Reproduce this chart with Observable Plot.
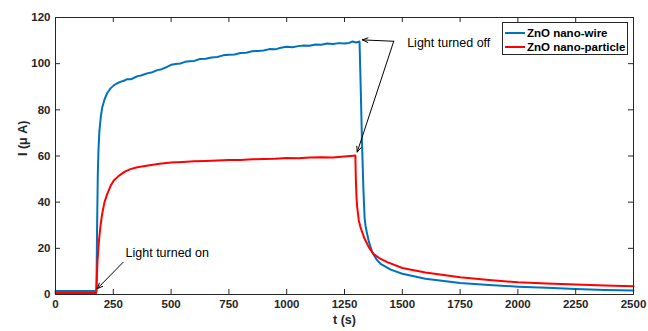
<!DOCTYPE html>
<html>
<head>
<meta charset="utf-8">
<script src="https://cdn.jsdelivr.net/npm/d3@7"></script>
<script src="https://cdn.jsdelivr.net/npm/@observablehq/plot@0.6"></script>
<style>
  body { margin: 0; background: #fff; font-family: "Liberation Sans", Arial, sans-serif; }
  #wrap { position: relative; width: 648px; height: 331px; }
  #legend { position: absolute; left: 502px; top: 22px; width: 126px; height: 33px; box-sizing: border-box;
    border: 1px solid #262626; background: #fff; font-weight: bold; font-size: 11.5px; color: #000; }
  .row { position: absolute; left: 2px; height: 14px; line-height: 14px; white-space: nowrap; }
  .row i { display: inline-block; width: 20px; height: 2px; vertical-align: middle; margin-right: 2px; position: relative; top: -1px; }
</style>
</head>
<body>
<div id="wrap"><div id="legend"></div></div>
<script>
// Series: ZnO nano-wire
const wireT = [0, 100, 177, 180, 183, 186, 190, 196, 202, 212, 224, 238, 252, 265, 280, 296, 310, 325, 340, 355, 370, 385, 400, 420, 440, 460, 480, 500, 520, 540, 560, 580, 600, 625, 650, 675, 700, 725, 750, 775, 800, 825, 850, 875, 900, 925, 950, 975, 1000, 1025, 1050, 1075, 1100, 1125, 1150, 1175, 1200, 1225, 1250, 1270, 1285, 1300, 1315, 1320, 1326, 1332, 1337, 1342, 1355, 1370, 1390, 1406, 1450, 1500, 1600, 1750, 1875, 2000, 2125, 2250, 2375, 2500];
const wireI = [1.5, 1.5, 1.5, 30, 52, 63, 71, 77, 81, 84.5, 87.3, 89.3, 90.6, 91.4, 92.1, 92.6, 93.3, 93.2, 93.9, 94.6, 94.9, 95.4, 95.9, 96.3, 97.2, 97.6, 98.5, 99.5, 99.9, 100.1, 100.8, 101.0, 101.2, 102.0, 102.1, 102.7, 102.9, 103.6, 103.9, 104.0, 104.6, 104.7, 105.4, 105.5, 105.7, 106.3, 106.2, 106.9, 107.3, 107.1, 107.6, 107.9, 107.8, 108.3, 108.2, 108.7, 108.5, 108.9, 108.7, 109.0, 109.6, 109.2, 109.6, 90, 65, 45, 33, 29, 23, 18.3, 15, 13.3, 10.8, 9.0, 6.8, 5.0, 4.1, 3.4, 2.9, 2.4, 2.0, 1.7];
// Series: ZnO nano-particle
const partT = [0, 100, 176, 178, 182, 188, 195, 202, 212, 224, 238, 252, 275, 300, 324, 350, 375, 400, 450, 500, 550, 600, 650, 700, 750, 800, 850, 900, 950, 1000, 1050, 1100, 1150, 1200, 1250, 1275, 1297, 1299, 1302, 1305, 1312, 1319, 1334, 1355, 1375, 1400, 1435, 1500, 1600, 1750, 1875, 2000, 2125, 2250, 2375, 2500];
const partI = [0.7, 0.7, 0.7, 5, 15, 23.4, 30, 35, 40, 43.6, 47, 49.4, 51.5, 53.2, 54.3, 55.0, 55.5, 55.9, 56.6, 57.2, 57.4, 57.7, 57.8, 58.0, 58.3, 58.3, 58.6, 58.7, 58.8, 59.1, 59.0, 59.3, 59.5, 59.4, 59.8, 60.0, 60.2, 50, 42, 37.8, 32, 29.2, 24.8, 20.5, 17.6, 15.8, 14.0, 11.5, 9.5, 7.5, 6.3, 5.3, 4.8, 4.3, 3.9, 3.6];

const seriesNames = ["ZnO nano-wire", "ZnO nano-particle"];
const seriesColors = ["#0072BD", "#FF0000"];
const xTicks = [0, 250, 500, 750, 1000, 1250, 1500, 1750, 2000, 2250, 2500];
const yTicks = [0, 20, 40, 60, 80, 100, 120];
const xLabel = "t (s)";
const yLabel = "I (\u03bc A)";

// Annotations (data units)
const noteText = ["Light turned on", "Light turned off"];
const noteX = [303, 1521];
const noteY = [17.8, 108.9];
const arrowX1 = [293, 1463, 1463];
const arrowY1 = [14.0, 109.7, 109.7];
const arrowX2 = [180, 1327, 1305];
const arrowY2 = [2.5, 110.3, 61.7];

const wire = wireT.map((t, i) => ({t, I: wireI[i]}));
const part = partT.map((t, i) => ({t, I: partI[i]}));
const notes = noteText.map((text, i) => ({text, x: noteX[i], y: noteY[i]}));
const arrows = arrowX1.map((x1, i) => ({x1, y1: arrowY1[i], x2: arrowX2[i], y2: arrowY2[i]}));

const W = 648, H = 331, mL = 55, mR = 15, mT = 17, mB = 37;
const fw = W - mL - mR, fh = H - mT - mB;
const axisColor = "#262626";
const fmt = d => String(d);

const chart = Plot.plot({
  width: W, height: H,
  marginLeft: mL, marginRight: mR, marginTop: mT, marginBottom: mB,
  style: {fontFamily: "'Liberation Sans', Arial, sans-serif", fontSize: "11.5px", color: axisColor, background: "#fff"},
  x: {domain: [0, 2500]},
  y: {domain: [0, 120]},
  marks: [
    Plot.line(wire, {x: "t", y: "I", stroke: seriesColors[0], strokeWidth: 2}),
    Plot.line(part, {x: "t", y: "I", stroke: seriesColors[1], strokeWidth: 2}),
    Plot.frame({stroke: axisColor, strokeWidth: 1}),
    Plot.tickX(xTicks, {x: d => d, stroke: axisColor, insetTop: fh - 5}),
    Plot.tickX(xTicks, {x: d => d, stroke: axisColor, insetBottom: fh - 5}),
    Plot.tickY(yTicks, {y: d => d, stroke: axisColor, insetRight: fw - 5}),
    Plot.tickY(yTicks, {y: d => d, stroke: axisColor, insetLeft: fw - 5}),
    Plot.axisX({ticks: xTicks, tickFormat: fmt, tickSize: 0, tickPadding: 5, label: null, fontWeight: "bold", fill: axisColor}),
    Plot.axisY({ticks: yTicks, tickFormat: fmt, tickSize: 0, tickPadding: 5, label: null, fontWeight: "bold", fill: axisColor}),
    Plot.text([xLabel], {text: d => d, frameAnchor: "bottom", dy: 29, fontWeight: "bold", fontSize: 12.5, fill: axisColor}),
    Plot.text([yLabel], {text: d => d, frameAnchor: "left", rotate: -90, dx: -33, fontWeight: "bold", fontSize: 12.5, fill: axisColor}),
    Plot.arrow(arrows, {x1: "x1", y1: "y1", x2: "x2", y2: "y2", stroke: "#000", strokeWidth: 1, headLength: 9, headAngle: 45}),
    Plot.text(notes, {x: "x", y: "y", text: "text", textAnchor: "start", fontSize: 12.5, fill: "#000"})
  ]
});
document.getElementById("wrap").prepend(chart);
chart.style.position = "absolute"; chart.style.left = "0"; chart.style.top = "0";

const legend = document.getElementById("legend");
seriesNames.forEach((name, i) => {
  const row = document.createElement("div");
  row.className = "row";
  row.style.top = (3 + i * 14) + "px";
  row.innerHTML = `<i style="background:${seriesColors[i]}"></i>${name}`;
  legend.appendChild(row);
});
document.getElementById("wrap").appendChild(legend);
</script>
</body>
</html>
